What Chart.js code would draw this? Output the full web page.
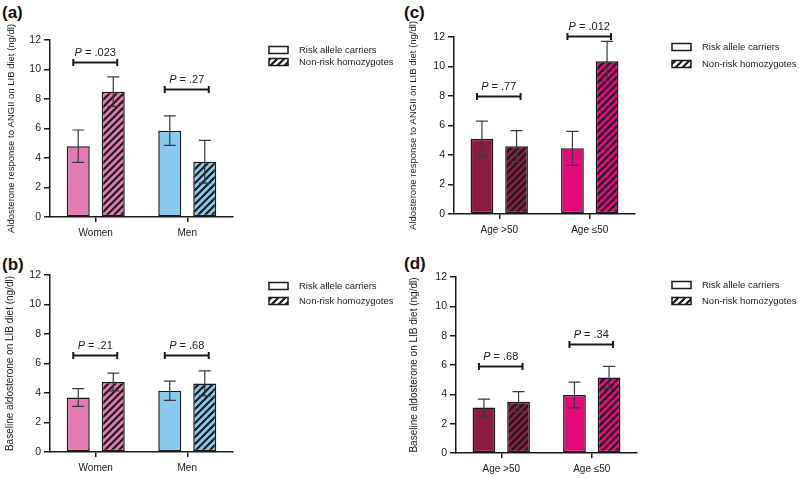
<!DOCTYPE html>
<html>
<head>
<meta charset="utf-8">
<script src="https://cdn.jsdelivr.net/npm/chart.js@4.4.0/dist/chart.umd.min.js"></script>
<style>
  body { margin: 0; background: #fff; width: 799px; height: 478px; position: relative; overflow: hidden;
         font-family: "Liberation Sans", Arial, sans-serif; }
  canvas { position: absolute; }
  .tag { position: absolute; font-weight: bold; font-size: 17px; line-height: 17px; color: #111; }
</style>
</head>
<body>
<div class="tag" style="left:2px;top:4px">(a)</div>
<div class="tag" style="left:2px;top:256px">(b)</div>
<div class="tag" style="left:404px;top:4px">(c)</div>
<div class="tag" style="left:404px;top:255px">(d)</div>
<canvas id="chartA" width="400" height="240" style="left:0;top:0"></canvas>
<canvas id="chartB" width="400" height="238" style="left:0;top:240px"></canvas>
<canvas id="chartC" width="399" height="240" style="left:400px;top:0"></canvas>
<canvas id="chartD" width="399" height="238" style="left:400px;top:240px"></canvas>
<script>
const sexLabels = ['Women', 'Men'];
const ageLabels = ['Age >50', 'Age \u226450'];
const seriesNames = ['Risk allele carriers', 'Non-risk homozygotes'];
const yTicks = [0, 2, 4, 6, 8, 10, 12];

// (a) aldosterone response to ANGII, by sex
const aRisk = [4.8, 5.85];
const aRiskErr = [1.1, 1.0];
const aNonRisk = [8.5, 3.75];
const aNonRiskErr = [1.0, 1.45];
const aP = ['.023', '.27'];
const aPLevel = [10.5, 8.7];

// (b) baseline aldosterone, by sex
const bRisk = [3.7, 4.15];
const bRiskErr = [0.6, 0.65];
const bNonRisk = [4.75, 4.65];
const bNonRiskErr = [0.6, 0.85];
const bP = ['.21', '.68'];
const bPLevel = [6.6, 6.6];

// (c) aldosterone response to ANGII, by age
const cRisk = [5.1, 4.45];
const cRiskErr = [1.2, 1.15];
const cNonRisk = [4.6, 10.35];
const cNonRiskErr = [1.05, 1.35];
const cP = ['.77', '.012'];
const cPLevel = [8.0, 12.1];

// (d) baseline aldosterone, by age
const dRisk = [3.1, 3.95];
const dRiskErr = [0.58, 0.88];
const dNonRisk = [3.5, 5.15];
const dNonRiskErr = [0.68, 0.75];
const dP = ['.68', '.34'];
const dPLevel = [5.95, 7.4];

const sexColors = ['#e27bb1', '#86cbef'];
const ageColors = ['#8b1c44', '#e6097a'];
const FONT = '"Liberation Sans", Arial, sans-serif';
const INK = '#1a1a1a';

function hatch(color) {
  const n = 7;
  const c = document.createElement('canvas');
  c.width = n; c.height = n;
  const g = c.getContext('2d');
  g.fillStyle = color;
  g.fillRect(0, 0, n, n);
  g.strokeStyle = INK;
  g.lineWidth = 2.2;
  g.beginPath();
  g.moveTo(-1, n + 1); g.lineTo(n + 1, -1);
  g.moveTo(-n / 2 - 1, n / 2 + 1); g.lineTo(n / 2 + 1, -n / 2 - 1);
  g.moveTo(n / 2 - 1, n * 1.5 + 1); g.lineTo(n * 1.5 + 1, n / 2 - 1);
  g.stroke();
  return g.createPattern(c, 'repeat');
}

const errorBars = {
  id: 'errorBars',
  afterDatasetsDraw(chart) {
    const ctx = chart.ctx, y = chart.scales.y;
    ctx.save();
    ctx.strokeStyle = '#3a3a3a';
    ctx.lineWidth = 1.2;
    chart.data.datasets.forEach((ds, di) => {
      chart.getDatasetMeta(di).data.forEach((bar, i) => {
        const hi = y.getPixelForValue(ds.data[i] + ds.err[i]);
        const lo = y.getPixelForValue(ds.data[i] - ds.err[i]);
        ctx.beginPath();
        ctx.moveTo(bar.x, hi); ctx.lineTo(bar.x, lo);
        ctx.moveTo(bar.x - 6, hi); ctx.lineTo(bar.x + 6, hi);
        ctx.moveTo(bar.x - 6, lo); ctx.lineTo(bar.x + 6, lo);
        ctx.stroke();
      });
    });
    ctx.restore();
  }
};

const pBrackets = {
  id: 'pBrackets',
  afterDraw(chart, args, opts) {
    const ctx = chart.ctx, y = chart.scales.y;
    const m0 = chart.getDatasetMeta(0).data, m1 = chart.getDatasetMeta(1).data;
    ctx.save();
    opts.values.forEach((p, i) => {
      const x0 = m0[i].x - 5, x1 = m1[i].x + 4;
      const py = Math.round(y.getPixelForValue(opts.levels[i])) + 0.5;
      ctx.strokeStyle = INK;
      ctx.lineWidth = 2;
      ctx.beginPath();
      ctx.moveTo(x0, py); ctx.lineTo(x1, py);
      ctx.moveTo(x0, py - 3.5); ctx.lineTo(x0, py + 3.5);
      ctx.moveTo(x1, py - 3.5); ctx.lineTo(x1, py + 3.5);
      ctx.stroke();
      const it = 'italic 11px ' + FONT, rg = '11px ' + FONT;
      const rest = ' = ' + p;
      ctx.font = it; const w1 = ctx.measureText('P').width;
      ctx.font = rg; const w2 = ctx.measureText(rest).width;
      let tx = (x0 + x1) / 2 - (w1 + w2) / 2;
      ctx.fillStyle = '#222';
      ctx.textBaseline = 'middle';
      ctx.font = it; ctx.fillText('P', tx, py - 10);
      ctx.font = rg; ctx.fillText(rest, tx + w1, py - 10);
    });
    ctx.restore();
  }
};

const boxLegend = {
  id: 'boxLegend',
  afterDraw(chart, args, opts) {
    const ctx = chart.ctx;
    ctx.save();
    ctx.font = '9.5px ' + FONT;
    ctx.textBaseline = 'middle';
    chart.data.datasets.forEach((ds, i) => {
      const yy = opts.rows[i];
      ctx.fillStyle = i === 0 ? '#fff' : hatch('#fff');
      ctx.fillRect(opts.boxX, yy - 3.5, 19, 7);
      ctx.strokeStyle = INK;
      ctx.lineWidth = 1.5;
      ctx.strokeRect(opts.boxX, yy - 3.5, 19, 7);
      ctx.fillStyle = '#222';
      ctx.fillText(ds.label, opts.textX, yy);
    });
    ctx.restore();
  }
};

function makePanel(id, cfg) {
  const canvas = document.getElementById(id);
  const W = canvas.width, H = canvas.height;
  new Chart(canvas, {
    type: 'bar',
    data: {
      labels: cfg.labels,
      datasets: [
        { label: seriesNames[0], data: cfg.risk, err: cfg.riskErr,
          backgroundColor: cfg.colors, borderColor: INK, borderWidth: 1.5, borderSkipped: false },
        { label: seriesNames[1], data: cfg.nonRisk, err: cfg.nonRiskErr,
          backgroundColor: cfg.colors.map(hatch), borderColor: INK, borderWidth: 1.5, borderSkipped: false }
      ]
    },
    options: {
      responsive: false,
      animation: false,
      devicePixelRatio: 1,
      categoryPercentage: 0.765,
      barPercentage: 0.657,
      layout: { padding: { left: 0, top: cfg.top, right: W - cfg.right, bottom: 0 } },
      plugins: {
        legend: { display: false },
        tooltip: { enabled: false },
        pBrackets: { values: cfg.p, levels: cfg.pLevel },
        boxLegend: cfg.legend
      },
      scales: {
        x: {
          offset: true,
          grid: { display: true, drawOnChartArea: false, offset: false, tickLength: 5, color: INK, lineWidth: 1.5 },
          border: { color: INK, width: 1.5 },
          ticks: { color: '#222', font: { family: FONT, size: 10 }, padding: 5 },
          afterFit: s => { s.height = H - cfg.bottom; }
        },
        y: {
          min: 0, max: 12,
          afterBuildTicks: s => { s.ticks = yTicks.map(v => ({ value: v })); },
          grid: { display: true, drawOnChartArea: false, tickLength: 6, color: INK, lineWidth: 1.5 },
          border: { color: INK, width: 1.5 },
          ticks: { color: '#222', font: { family: FONT, size: 10.5 }, padding: 3 },
          title: { display: true, text: cfg.yTitle, color: '#222',
                   font: { family: FONT, size: cfg.titleSize }, padding: { top: cfg.titlePad, bottom: 0 } },
          afterFit: s => { s.width = cfg.left; }
        }
      }
    },
    plugins: [errorBars, pBrackets, boxLegend]
  });
}

const titleAng = 'Aldosterone response to ANGII on LIB diet (ng/dl)';
const titleBase = 'Baseline aldosterone on LIB diet (ng/dl)';

makePanel('chartA', { labels: sexLabels, risk: aRisk, riskErr: aRiskErr, nonRisk: aNonRisk, nonRiskErr: aNonRiskErr,
  colors: sexColors, p: aP, pLevel: aPLevel, yTitle: titleAng, titleSize: 9.5, titlePad: 6,
  left: 50, right: 233, top: 40, bottom: 217, legend: { boxX: 269, textX: 299, rows: [50, 62] } });
makePanel('chartB', { labels: sexLabels, risk: bRisk, riskErr: bRiskErr, nonRisk: bNonRisk, nonRiskErr: bNonRiskErr,
  colors: sexColors, p: bP, pLevel: bPLevel, yTitle: titleBase, titleSize: 10, titlePad: 4,
  left: 50, right: 233, top: 35, bottom: 212, legend: { boxX: 269, textX: 299, rows: [46, 61] } });
makePanel('chartC', { labels: ageLabels, risk: cRisk, riskErr: cRiskErr, nonRisk: cNonRisk, nonRiskErr: cNonRiskErr,
  colors: ageColors, p: cP, pLevel: cPLevel, yTitle: titleAng, titleSize: 9.5, titlePad: 8,
  left: 54, right: 235, top: 37, bottom: 214, legend: { boxX: 272, textX: 302, rows: [47, 64] } });
makePanel('chartD', { labels: ageLabels, risk: dRisk, riskErr: dRiskErr, nonRisk: dNonRisk, nonRiskErr: dNonRiskErr,
  colors: ageColors, p: dP, pLevel: dPLevel, yTitle: titleBase, titleSize: 10, titlePad: 8,
  left: 56, right: 237, top: 37, bottom: 213, legend: { boxX: 272, textX: 302, rows: [45, 61] } });
</script>
</body>
</html>
